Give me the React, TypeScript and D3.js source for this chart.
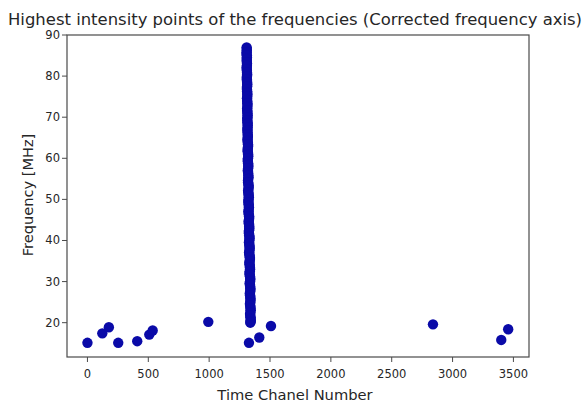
import React from "react";
import * as d3 from "d3";

const title = "Highest intensity points of the frequencies (Corrected frequency axis)";
const xLabel = "Time Chanel Number";
const yLabel = "Frequency [MHz]";
const xTicks = [0, 500, 1000, 1500, 2000, 2500, 3000, 3500];
const yTicks = [20, 30, 40, 50, 60, 70, 80, 90];

// scattered points
const scatterChannel = [0, 122, 176, 253, 409, 508, 536, 993, 1327, 1412, 1508, 2839, 3400, 3457];
const scatterFreq = [15.1, 17.4, 18.9, 15.1, 15.5, 17.1, 18.1, 20.2, 15.1, 16.4, 19.2, 19.6, 15.8, 18.4];

// dense column of points near channel ~1300-1345
const columnChannel = [
  1308, 1309, 1307, 1310, 1309, 1311, 1308, 1310, 1312, 1309, 1311, 1313, 1310, 1312, 1314, 1311,
  1313, 1315, 1312, 1314, 1316, 1313, 1315, 1317, 1314, 1316, 1318, 1315, 1318, 1320, 1316, 1319,
  1321, 1317, 1320, 1322, 1318, 1321, 1323, 1319, 1322, 1325, 1320, 1324, 1326, 1322, 1325, 1327,
  1323, 1326, 1329, 1324, 1328, 1330, 1326, 1329, 1332, 1327, 1331, 1333, 1328, 1332, 1335, 1330,
  1334, 1336, 1331, 1335, 1338, 1333, 1337, 1339, 1334, 1338, 1340, 1335, 1339, 1341, 1336, 1340,
  1342, 1338,
];
const columnFreq = [
  87, 86.2, 85.4, 84.6, 83.8, 83, 82.1, 81.3, 80.4, 79.6, 78.8, 78, 77.1, 76.3, 75.5, 74.6,
  73.8, 73, 72.1, 71.3, 70.5, 69.6, 68.8, 68, 67.1, 66.3, 65.4, 64.6, 63.8, 63, 62.1, 61.3,
  60.5, 59.6, 58.8, 58, 57.1, 56.3, 55.4, 54.6, 53.8, 53, 52.1, 51.3, 50.5, 49.6, 48.8, 48,
  47.1, 46.3, 45.5, 44.6, 43.8, 43, 42.1, 41.3, 40.5, 39.6, 38.8, 38, 37.1, 36.3, 35.5, 34.6,
  33.8, 33, 32.1, 31.3, 30.5, 29.6, 28.8, 28, 27.1, 26.3, 25.5, 24.6, 23.8, 23, 22.1, 21.3,
  20.5, 20,
];
const columnChannel2 = [
  1309, 1308, 1310, 1309, 1310, 1310, 1309, 1311, 1311, 1310,
  1312, 1312, 1311, 1313, 1313, 1312, 1314, 1314, 1313, 1315,
  1315, 1314, 1316, 1316, 1315, 1317, 1317, 1316, 1319, 1318,
  1317, 1320, 1319, 1318, 1321, 1320, 1319, 1322, 1321, 1320,
  1324, 1323, 1322, 1325, 1324, 1323, 1326, 1325, 1324, 1328,
  1327, 1326, 1329, 1328, 1327, 1331, 1330, 1329, 1332, 1331,
  1330, 1334, 1333, 1332, 1335, 1334, 1333, 1337, 1336, 1335,
  1338, 1337, 1336, 1339, 1338, 1337, 1340, 1339, 1338, 1341,
  1340,
];
const columnFreq2 = [
  86.6, 85.8, 85, 84.2, 83.4, 82.5, 81.7, 80.8, 80, 79.2,
  78.4, 77.5, 76.7, 75.9, 75, 74.2, 73.4, 72.5, 71.7, 70.9,
  70, 69.2, 68.4, 67.5, 66.7, 65.8, 65, 64.2, 63.4, 62.5,
  61.7, 60.9, 60, 59.2, 58.4, 57.5, 56.7, 55.8, 55, 54.2,
  53.4, 52.5, 51.7, 50.9, 50, 49.2, 48.4, 47.5, 46.7, 45.9,
  45, 44.2, 43.4, 42.5, 41.7, 40.9, 40, 39.2, 38.4, 37.5,
  36.7, 35.9, 35, 34.2, 33.4, 32.5, 31.7, 30.9, 30, 29.2,
  28.4, 27.5, 26.7, 25.9, 25, 24.2, 23.4, 22.5, 21.7, 20.9,
  20.2,
];

const W = 588;
const H = 405;
const left = 67;
const right = 529;
const top = 35;
const bottom = 357;

export default function App() {
  const x = d3.scaleLinear().domain([-168, 3628]).range([left, right]);
  const y = d3.scaleLinear().domain([11.65, 90]).range([bottom, top]);

  const points: [number, number][] = [];
  columnChannel.forEach((c, i) => points.push([c, columnFreq[i]]));
  columnChannel2.forEach((c, i) => points.push([c, columnFreq2[i]]));
  scatterChannel.forEach((c, i) => points.push([c, scatterFreq[i]]));

  const font = "DejaVu Sans, sans-serif";
  const textColor = "#262626";
  const markColor = "#0a0aa8";

  return (
    <svg
      width={W}
      height={H}
      style={{ position: "absolute", left: 0, top: 0, background: "#fff" }}
      fontFamily={font}
    >
      <rect x={0} y={0} width={W} height={H} fill="#fff" />
      <text
        x={295}
        y={25}
        textAnchor="middle"
        fontSize={16}
        fill={textColor}
        textLength={574}
        lengthAdjust="spacingAndGlyphs"
      >
        {title}
      </text>
      {points.map(([c, f], i) => (
        <circle key={i} cx={x(c)} cy={y(f)} r={5.2} fill={markColor} />
      ))}
      <rect
        x={left}
        y={top}
        width={right - left}
        height={bottom - top}
        fill="none"
        stroke="#4a4a4a"
        strokeWidth={1.2}
      />
      {xTicks.map((t) => (
        <g key={"x" + t}>
          <line x1={x(t)} x2={x(t)} y1={bottom} y2={bottom + 5} stroke="#4a4a4a" strokeWidth={1} />
          <text x={x(t)} y={378} textAnchor="middle" fontSize={11.5} fill={textColor}>
            {t}
          </text>
        </g>
      ))}
      {yTicks.map((t) => (
        <g key={"y" + t}>
          <line x1={left - 5} x2={left} y1={y(t)} y2={y(t)} stroke="#4a4a4a" strokeWidth={1} />
          <text x={60} y={y(t) + 4} textAnchor="end" fontSize={11.5} fill={textColor}>
            {t}
          </text>
        </g>
      ))}
      <text x={295} y={400} textAnchor="middle" fontSize={14.7} fill={textColor}>
        {xLabel}
      </text>
      <text
        transform={`translate(33,195) rotate(-90)`}
        textAnchor="middle"
        fontSize={14.6}
        fill={textColor}
      >
        {yLabel}
      </text>
    </svg>
  );
}
